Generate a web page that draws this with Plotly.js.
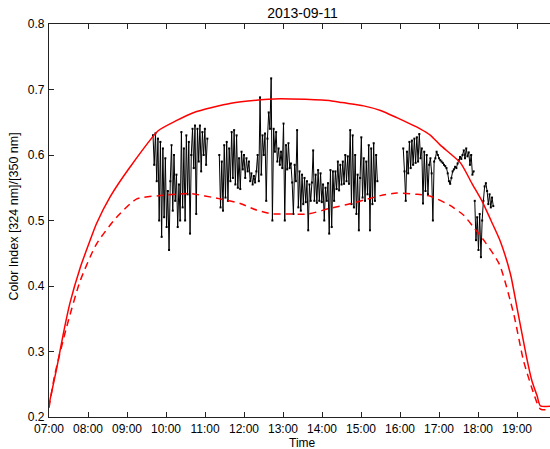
<!DOCTYPE html>
<html>
<head>
<meta charset="utf-8">
<script src="https://cdn.plot.ly/plotly-3.0.1.min.js"></script>
<style>
html,body{margin:0;padding:0;overflow:hidden;background:#fff;}
#chart{width:556px;height:449px;}
</style>
</head>
<body>
<div id="chart"></div>
<script>
const DAY = '2013-09-11';

// Model curve (solid red)
const solidTimes = ['07:00','07:12','07:22','07:32','07:48','08:03','08:13','08:34','09:05','09:48','10:15','10:43','11:40','12:37','12:56','13:34','14:13','14:31','15:04','15:30','15:55','16:31','16:47','17:02','17:33','17:51','18:06','18:20','18:34','18:50','19:00','19:15','19:23','19:31','19:36','20:00'];
const solidVals  = [0.219,0.275,0.327,0.373,0.428,0.469,0.495,0.536,0.582,0.637,0.652,0.665,0.679,0.685,0.686,0.685,0.683,0.680,0.675,0.668,0.657,0.640,0.630,0.615,0.588,0.556,0.530,0.500,0.469,0.418,0.367,0.290,0.255,0.232,0.217,0.217];

// Model curve (dashed red)
const dashTimes = ['07:00','07:09','07:27','07:48','08:13','08:44','09:15','09:51','10:37','11:23','11:54','12:19','12:43','13:03','13:39','14:10','14:37','15:04','15:30','15:55','16:26','16:47','17:17','17:38','17:53','18:11','18:33','18:55','19:10','19:26','19:36','20:00'];
const dashVals  = [0.214,0.265,0.337,0.408,0.464,0.505,0.533,0.538,0.541,0.533,0.526,0.516,0.510,0.510,0.510,0.518,0.524,0.531,0.538,0.542,0.540,0.537,0.523,0.508,0.490,0.467,0.433,0.357,0.286,0.235,0.212,0.212];

// Measurements: four runs, one reading every obsStepSeconds from each start time
const obsStepSeconds = 114;
const seg1Start = '09:40:00';
const seg1Vals = [0.630,0.585,0.633,0.560,0.625,0.500,0.620,0.475,0.610,0.505,0.595,0.490,0.545,0.455,0.560,0.615,0.515,0.600,0.530,0.570,0.490,0.555,0.500,0.635,0.520,0.610,0.500,0.630,0.540,0.620,0.480,0.600,0.640,0.580,0.645,0.510,0.640,0.590,0.645,0.575,0.635,0.600,0.640,0.585,0.625];
const seg2Start = '11:22:00';
const seg2Vals = [0.600,0.520,0.590,0.515,0.615,0.535,0.620,0.530,0.610,0.560,0.635,0.565,0.638,0.555,0.630,0.550,0.595,0.548,0.605,0.578,0.600,0.565,0.595,0.575,0.590,0.560,0.572,0.555,0.568,0.558,0.575,0.600,0.560,0.688,0.570,0.630,0.600,0.633,0.530,0.625,0.665,0.640,0.717,0.500,0.640,0.605,0.635,0.590,0.610,0.585,0.605,0.580,0.648,0.500,0.615,0.578,0.618,0.580,0.587,0.558,0.510,0.585,0.560,0.638,0.520,0.575,0.515,0.570,0.525,0.565,0.528,0.560,0.485,0.555,0.530,0.558,0.607,0.530,0.570,0.527,0.577,0.530,0.572,0.528,0.555,0.500,0.550,0.530,0.557,0.480,0.577,0.490,0.575,0.530,0.575,0.548,0.590,0.546,0.585,0.555,0.590,0.556,0.600,0.560,0.598,0.556,0.638,0.525,0.630,0.520,0.600,0.510,0.570,0.485,0.565,0.627,0.535,0.595,0.530,0.590,0.540,0.615,0.485,0.610,0.525,0.618,0.530,0.600,0.560];
const seg3Start = '16:05:00';
const seg3Vals = [0.610,0.575,0.530,0.605,0.572,0.620,0.580,0.622,0.585,0.625,0.588,0.627,0.590,0.632,0.595,0.610,0.526,0.605,0.545,0.600,0.540,0.585,0.595,0.572,0.500,0.590,0.595,0.605,0.600,0.595,0.592,0.590,0.588,0.585,0.583,0.580,0.572,0.560,0.556,0.565,0.575,0.578,0.582,0.580,0.587,0.592,0.597,0.594,0.600,0.607,0.595,0.610,0.598,0.604,0.585,0.600,0.570,0.575];
const seg4Start = '17:55:00';
const seg4Vals = [0.530,0.470,0.505,0.455,0.510,0.444,0.500,0.530,0.552,0.557,0.545,0.525,0.540,0.520,0.535,0.522];

const yTickVals = [0.2,0.3,0.4,0.5,0.6,0.7,0.8];
const xTickLabels = ['07:00','08:00','09:00','10:00','11:00','12:00','13:00','14:00','15:00','16:00','17:00','18:00','19:00'];

const D = t => DAY + ' ' + t;
function segTimes(start, n) {
  const base = new Date(DAY + 'T' + start + 'Z').getTime();
  const out = [];
  for (let i = 0; i < n; i++) {
    const d = new Date(base + i * obsStepSeconds * 1000);
    out.push(d.toISOString().slice(0, 19).replace('T', ' '));
  }
  return out;
}

const obsStyle = {type: 'scatter', mode: 'lines+markers',
  line: {color: '#000', width: 1, simplify: false},
  marker: {color: '#000', size: 2, symbol: 'square'}, hoverinfo: 'skip'};

const traces = [
  [seg1Start, seg1Vals], [seg2Start, seg2Vals], [seg3Start, seg3Vals], [seg4Start, seg4Vals]
].map(([s, v]) => Object.assign({x: segTimes(s, v.length), y: v}, obsStyle));

traces.push(
  {x: solidTimes.map(D), y: solidVals, type: 'scatter', mode: 'lines',
   line: {color: '#ff0000', width: 1.5, shape: 'spline', smoothing: 0.6}},
  {x: dashTimes.map(D), y: dashVals, type: 'scatter', mode: 'lines',
   line: {color: '#ff0000', width: 1.5, dash: '7px,5px', shape: 'spline', smoothing: 0.6}}
);

const FONT = 'Liberation Sans, Arial, sans-serif';
const tickFont = {family: FONT, size: 12, color: '#000'};

const layout = {
  width: 556, height: 449,
  margin: {l: 49, r: 0, t: 24, b: 32},
  paper_bgcolor: '#fff', plot_bgcolor: '#fff',
  showlegend: false,
  title: {text: '2013-09-11', font: {family: FONT, size: 14, color: '#000'},
          xref: 'container', x: 302.5/556, xanchor: 'center', yref: 'container', y: 1 - 13.5/449, yanchor: 'middle'},
  xaxis: {
    type: 'date',
    range: [D('07:00'), D('20:00')],
    tickvals: xTickLabels.map(D), ticktext: xTickLabels,
    ticks: 'inside', ticklen: 5, tickwidth: 1, tickcolor: '#222',
    showline: true, linecolor: '#222', linewidth: 1.2, mirror: 'ticks',
    showgrid: false, zeroline: false,
    tickfont: tickFont, ticklabelstandoff: 0
  },
  yaxis: {
    range: [0.2, 0.8],
    tickvals: yTickVals, ticktext: yTickVals.map(v => v.toFixed(1)),
    ticks: 'inside', ticklen: 5, tickwidth: 1, tickcolor: '#222',
    showline: true, linecolor: '#222', linewidth: 1.2, mirror: 'ticks',
    showgrid: false, zeroline: false,
    tickfont: tickFont, ticklabelstandoff: 1
  },
  annotations: [
    {text: 'Time', xref: 'paper', yref: 'paper', x: 0.5, y: -(443 - 417)/393,
     xanchor: 'center', yanchor: 'middle', showarrow: false,
     font: {family: FONT, size: 12, color: '#000'}},
    {text: 'Color Index [324 nm]/[350 nm]', xref: 'paper', yref: 'paper', x: -(49 - 13.8)/507, y: (417 - 216.7)/393,
     xanchor: 'center', yanchor: 'middle', textangle: -90, showarrow: false,
     font: {family: FONT, size: 12.5, color: '#000'}}
  ]
};

Plotly.newPlot('chart', traces, layout, {displayModeBar: false, staticPlot: true});
</script>
</body>
</html>
